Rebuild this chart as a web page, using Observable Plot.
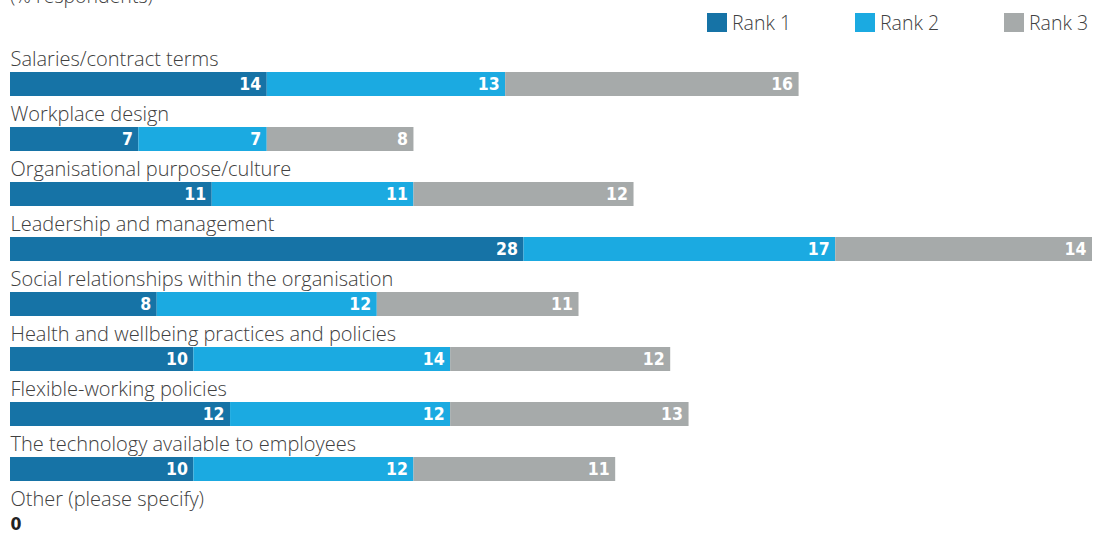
<!DOCTYPE html>
<html>
<head>
<meta charset="utf-8">
<script src="https://cdn.jsdelivr.net/npm/d3@7"></script>
<script src="https://cdn.jsdelivr.net/npm/@observablehq/plot@0.6"></script>
<style>
  html, body { margin: 0; padding: 0; background: #fff; overflow: hidden; }
  #wrap { position: relative; width: 1106px; height: 534px; overflow: hidden; font-family: "Open Sans", Lato, sans-serif; }
  #sub { position: absolute; left: 10px; top: -14px; font-size: 19.5px; color: #404040; line-height: 20px; white-space: nowrap; font-weight: 300; }
  .lg { position: absolute; top: 13px; height: 19px; font-size: 19.5px; color: #404040; line-height: 19px; white-space: nowrap; font-weight: 300; }
  .lg span.sw { position: absolute; left: 0; top: 0; width: 20px; height: 19px; }
  .lg span.tx { position: absolute; left: 25px; top: 0px; }
  #chart { position: absolute; left: 0; top: 0; }
</style>
</head>
<body>
<div id="wrap">
  <div id="sub">(% respondents)</div>
  <div id="legend"></div>
  <div id="chart"></div>
</div>
<script>
const categories = [
  "Salaries/contract terms",
  "Workplace design",
  "Organisational purpose/culture",
  "Leadership and management",
  "Social relationships within the organisation",
  "Health and wellbeing practices and policies",
  "Flexible-working policies",
  "The technology available to employees",
  "Other (please specify)"
];
const ranks = ["Rank 1", "Rank 2", "Rank 3"];
const rank1 = [14, 7, 11, 28, 8, 10, 12, 10, 0];
const rank2 = [13, 7, 11, 17, 12, 14, 12, 12, 0];
const rank3 = [16, 8, 12, 14, 11, 12, 13, 11, 0];
const colors = ["#1673a6", "#1baae1", "#a6aaaa"];

const series = [rank1, rank2, rank3];
const data = [];
ranks.forEach((r, j) => categories.forEach((c, i) => data.push({cat: c, rank: r, value: series[j][i]})));
const totals = categories.map((c, i) => ({cat: c, total: rank1[i] + rank2[i] + rank3[i]}));

// legend
const legendX = [707, 855, 1004];
const lg = document.getElementById("legend");
ranks.forEach((r, j) => {
  const d = document.createElement("div");
  d.className = "lg";
  d.style.left = legendX[j] + "px";
  d.innerHTML = `<span class="sw" style="background:${colors[j]}"></span><span class="tx">${r}</span>`;
  lg.appendChild(d);
});

const labelFont = "'Open Sans', Lato, sans-serif";
const valueFont = "'Liberation Sans Narrow', 'DejaVu Sans Condensed', 'Roboto', sans-serif";

const plot = Plot.plot({
  width: 1106,
  height: 534,
  marginLeft: 10,
  marginRight: 14,
  marginTop: 0,
  marginBottom: 0,
  style: {background: "transparent", overflow: "visible"},
  x: {domain: [0, 59], axis: null},
  y: {domain: categories, range: [39.6, 39.6 + 55.35 * 9], padding: 0, axis: null},
  color: {domain: ranks, range: colors},
  marks: [
    Plot.barX(data, Plot.stackX({x: "value", y: "cat", z: "rank", fill: "rank", insetTop: 31, insetBottom: 0})),
    Plot.text(data.filter(d => d.value > 0), Plot.stackX2({
      x: "value", y: "cat", z: "rank", text: d => String(d.value),
      textAnchor: "end", dx: -6, dy: 15.6, fill: "white",
      fontFamily: valueFont, fontWeight: "bold", fontSize: 17.5
    })),
    Plot.text(totals.filter(d => d.total === 0), {
      x: 0, y: "cat", text: d => String(d.total), textAnchor: "start",
      dy: 15.6, fill: "#222", fontFamily: valueFont, fontWeight: "bold", fontSize: 17.5
    }),
    Plot.text(categories, {
      x: 0, y: d => d, text: d => d, textAnchor: "start", lineAnchor: "bottom",
      dy: -3.3, fill: "#404040", fontFamily: labelFont, fontWeight: 300, fontSize: 20
    })
  ]
});
document.getElementById("chart").appendChild(plot);
</script>
</body>
</html>
